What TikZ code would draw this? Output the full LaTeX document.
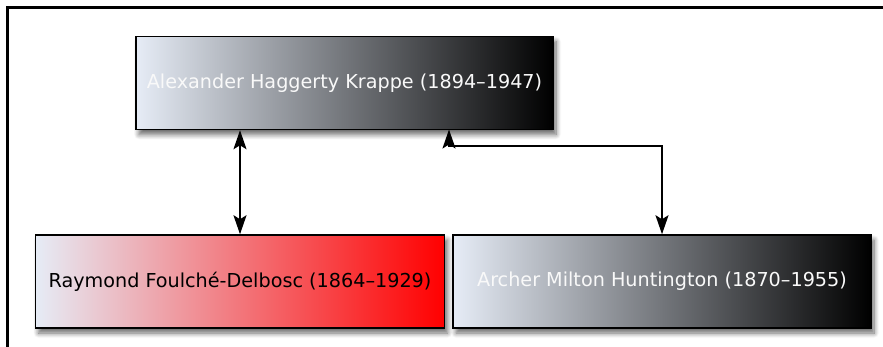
\documentclass[tikz,border=0pt]{standalone}
\usepackage{fontspec}
\setmainfont{DejaVu Sans}
\usetikzlibrary{arrows.meta,shadows.blur}
\definecolor{lightend}{HTML}{E6ECF6}
\tikzset{
  person/.style={draw=black, line width=1.5pt, minimum width=#1, minimum height=93pt,
    inner sep=0pt, font=\fontsize{19.2}{21}\selectfont,
    blur shadow={shadow xshift=3pt, shadow yshift=-5pt, shadow blur steps=8, shadow blur radius=5pt, shadow opacity=60}},
  darkbox/.style={left color=lightend, right color=black, text=white!95!gray},
  redbox/.style={left color=lightend, right color=red, text=black},
  >={Stealth[length=19pt,width=13pt,inset=4pt]},
  link/.style={line width=2pt, <->},
}
\begin{document}
\begin{tikzpicture}[x=1pt,y=-1pt]
\useasboundingbox (0,0) rectangle (883,347);
\draw[line width=3pt] (7,350) -- (7,8) -- (886,8);
\node[person=417pt, darkbox] (krappe) at (344.5,83) {Alexander Haggerty Krappe (1894–1947)};
\node[person=409pt, redbox] (foulche) at (240,281.5) {Raymond Foulché-Delbosc (1864–1929)};
\node[person=418pt, darkbox] (huntington) at (662,281.5) {Archer Milton Huntington (1870–1955)};
\draw[link] (krappe.south -| foulche.north) -- (foulche.north);
\coordinate (k2) at (449,129.5);
\coordinate (bend) at (449,146);
\draw[link] (k2) -- (bend) -| (huntington.north);
\end{tikzpicture}
\end{document}
